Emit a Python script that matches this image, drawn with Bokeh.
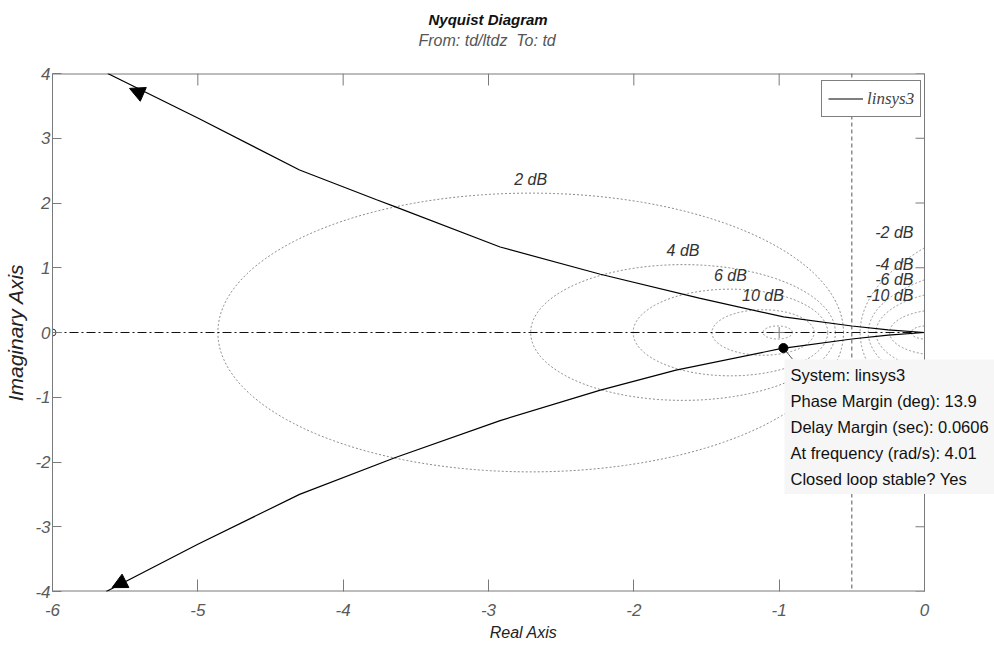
import numpy as np
from bokeh.plotting import figure
from bokeh.models import (Range1d, FixedTicker, LinearAxis, Span, Label, Legend, LegendItem, Title,
                          Arrow, NormalHead)
from bokeh.core.properties import value
from bokeh.embed import file_html
from bokeh.resources import INLINE

# ---------------- data ----------------
upper_re = [-5.62, -4.99, -4.30, -3.77, -3.64, -2.92, -2.23, -1.55, -0.97, -0.50, -0.25, 0.00]
upper_im = [4.00, 3.30, 2.51, 2.05, 1.94, 1.32, 0.90, 0.53, 0.24, 0.10, 0.04, 0.00]
lower_re = [-5.63, -5.00, -4.30, -3.64, -2.92, -2.23, -1.71, -0.99, -0.50, -0.25, 0.00]
lower_im = [-4.00, -3.27, -2.50, -1.93, -1.36, -0.89, -0.58, -0.25, -0.10, -0.04, 0.00]
arrow_re = [-5.47, -5.59]
arrow_im = [3.77, -3.94]
m_db = [2, 4, 6, 10, 20, -2, -4, -6, -10, -20]
m_labelled = [2, 4, 6, 10, -2, -4, -6, -10]
pm_deg = 13.9
dm_sec = 0.0606
w_c = 4.01
x_ticks = [-6, -5, -4, -3, -2, -1, 0]
y_ticks = [-4, -3, -2, -1, 0, 1, 2, 3, 4]
title_text = "Nyquist Diagram"
subtitle_text = "From: td/ltdz\u00a0 To: td"
x_label = "Real Axis"
y_label = "Imaginary Axis"
legend_text = "linsys3"
tip_lines = ["System: linsys3",
             f"Phase Margin (deg): {pm_deg}",
             f"Delay Margin (sec): {dm_sec}",
             f"At frequency (rad/s): {w_c}",
             "Closed loop stable? Yes"]

FONT = "Liberation Sans"
SERIF = "Liberation Serif"
GRAY = "#7a7a7a"

W, H = 994, 646
LB, TB, BB = 52, 73, 55
BOX_W = 872                      # width of the axes box (x from -6 to 0)
FW, FH = W - LB, H - TB - BB     # frame runs on to the right edge so the data tip is not cut
SX, SY = BOX_W / 6.0, FH / 8.0
X_END = x_ticks[-1] + (FW - BOX_W) / SX

p = figure(width=W, height=H, x_range=Range1d(x_ticks[0], X_END), y_range=Range1d(y_ticks[0], y_ticks[-1]),
           output_backend="svg", toolbar_location=None,
           min_border_left=LB, min_border_right=0, min_border_top=TB, min_border_bottom=BB,
           x_axis_type=None, y_axis_type=None)
p.grid.visible = False
p.outline_line_color = None
p.background_fill_color = "white"
p.border_fill_color = "white"

def style_axis(ax, ticks, tick_len, standoff, line=True):
    ax.ticker = FixedTicker(ticks=ticks)
    ax.major_label_overrides = {t: str(t) for t in ticks}
    ax.axis_line_color = GRAY if line else None
    ax.major_tick_line_color = GRAY
    ax.minor_tick_line_color = None
    ax.major_tick_in = tick_len
    ax.major_tick_out = 0
    ax.major_label_text_font = FONT
    ax.major_label_text_font_style = "italic"
    ax.major_label_text_color = "#5a5a5a"
    ax.major_label_text_font_size = "17px"
    ax.major_label_standoff = standoff
    ax.axis_label_text_font = FONT
    ax.axis_label_text_font_style = "italic"
    ax.axis_label_text_color = "#222222"

xb = LinearAxis(); xt = LinearAxis(); yl = LinearAxis()
p.add_layout(xb, "below"); p.add_layout(xt, "above"); p.add_layout(yl, "left")
style_axis(xb, x_ticks, 12, 12, line=False)
style_axis(yl, y_ticks, 9, 2)
# top axis only keeps room between the box and the titles; its ticks are drawn below
style_axis(xt, x_ticks, 0, 0, line=False)
xt.major_tick_line_color = None
xt.major_tick_out = 25
xt.major_label_text_color = None
xb.axis_label = x_label
xb.axis_label_standoff = 5
xb.axis_label_text_font_size = "16px"
yl.axis_label = y_label
yl.axis_label_standoff = 5
yl.axis_label_text_font_size = "21px"

# spines of the axes box that the frame does not give (top, bottom, right), top and right ticks
p.segment([x_ticks[0], x_ticks[0]], [y_ticks[0], y_ticks[-1]], [x_ticks[-1], x_ticks[-1]], [y_ticks[0], y_ticks[-1]],
          line_color=GRAY, line_width=2)
p.add_layout(Span(location=x_ticks[-1], dimension="height", line_color=GRAY, line_width=1))
p.segment([x_ticks[-1]] * len(y_ticks), y_ticks, [x_ticks[-1] - 9 / SX] * len(y_ticks), y_ticks,
          line_color=GRAY, line_width=1)
p.segment(x_ticks, [y_ticks[-1]] * len(x_ticks), x_ticks, [y_ticks[-1] - 12 / SY] * len(x_ticks),
          line_color=GRAY, line_width=1)

# ---------------- M circles (only the part left of the box edge) ----------------
xs, ys = [], []
for db in m_db:
    M = 10 ** (db / 20)
    c = -M**2 / (M**2 - 1)
    r = abs(M / (M**2 - 1))
    lim = -c / r
    if lim >= 1:
        t0, t1 = 0.0, 2 * np.pi
    elif lim <= -1:
        continue
    else:
        a = np.arccos(lim)
        t0, t1 = a, 2 * np.pi - a
    th = np.linspace(t0, t1, 500)
    xs.append(np.minimum(c + r * np.cos(th), 0.0))
    ys.append(r * np.sin(th))
p.multi_line(xs, ys, line_color="#8a8a8a", line_width=1, line_dash="2 2")

# 0 dB line and real axis
p.add_layout(Span(location=-0.5, dimension="height", line_color="#555555", line_dash="4 3", line_width=1))
p.segment([x_ticks[0]], [0], [x_ticks[-1]], [0], line_color="#111111", line_dash="9 3 2 3", line_width=1)

# M labels
pos_x, pos_y, pos_t = [], [], []
neg_x, neg_y, neg_t = [], [], []
for db in m_labelled:
    M = 10 ** (db / 20)
    c = -M**2 / (M**2 - 1)
    r = abs(M / (M**2 - 1))
    if db > 0:
        pos_x.append(c); pos_y.append(r); pos_t.append(f"{db} dB")
    else:
        neg_x.append(0.0); neg_y.append(float(np.sqrt(max(r**2 - c**2, 0)))); neg_t.append(f"{db} dB")
p.text(pos_x, pos_y, text=pos_t, text_align="center", text_baseline="middle", y_offset=-14,
       text_font=value(FONT), text_font_style="italic", text_font_size="16px", text_color="#333333")
p.text(neg_x, neg_y, text=neg_t, text_align="right", text_baseline="middle", x_offset=-11, y_offset=-15,
       text_font=value(FONT), text_font_style="italic", text_font_size="16px", text_color="#333333")

# critical point and start marker
p.scatter([-1], [0], marker="cross", size=11, line_color="#777777")
p.scatter([x_ticks[0]], [0], marker="circle", size=7, fill_color="white", line_color="#333333")

# Nyquist curve
up = p.line(upper_re, upper_im, line_color="black", line_width=1.2)
p.line(lower_re, lower_im, line_color="black", line_width=1.2)

# direction arrows along the curve (head only)
for (x0, y0, x1, y1) in [(upper_re[1], upper_im[1], arrow_re[0], arrow_im[0]),
                         (lower_re[1], lower_im[1], arrow_re[1], arrow_im[1])]:
    p.add_layout(Arrow(x_start=x0, y_start=y0, x_end=x1, y_end=y1, line_alpha=0.0,
                       end=NormalHead(size=15, fill_color="black", line_color="black", line_width=1)))

# phase margin point + data tip
pm_x = float(-np.cos(np.radians(pm_deg)))
pm_y = float(-np.sin(np.radians(pm_deg)))
p.segment([pm_x], [pm_y], [pm_x + 9 / SX], [pm_y - 11 / SY], line_color="#555555", line_width=1)
p.scatter([pm_x], [pm_y], marker="circle", size=9, fill_color="black", line_color="black")

def fx(px):
    return px - LB
def fy(py):
    return (TB + FH) - py

p.add_layout(Label(x=fx(784), y=fy(359), x_units="screen", y_units="screen",
                   text="\n".join(tip_lines), text_align="left", text_baseline="top",
                   text_font=FONT, text_font_size="16.5px", text_color="#111111",
                   text_line_height=1.45, background_fill_color="#f6f6f6", background_fill_alpha=1.0,
                   padding=6))

# legend
legend = Legend(items=[LegendItem(label=legend_text, renderers=[up])],
                location=(fx(821), fy(117)), glyph_width=35, glyph_height=23, label_height=23,
                label_standoff=4, padding=6, spacing=0, margin=0,
                label_text_font=SERIF, label_text_font_style="italic", label_text_font_size="17px",
                border_line_color="black", border_line_width=1, background_fill_color="white",
                background_fill_alpha=1.0)
p.add_layout(legend)

# titles
p.add_layout(Title(text=subtitle_text, align="left", offset=366, standoff=0, text_font=FONT,
                   text_font_style="italic", text_font_size="16px", text_color="#555555"), "above")
p.title.text = title_text
p.title.align = "left"
p.title.offset = 376
p.title.standoff = 4
p.title.text_font = FONT
p.title.text_font_style = "bold italic"
p.title.text_font_size = "15px"
p.title.text_color = "#111111"

open("out.html", "w").write(file_html(p, INLINE))
